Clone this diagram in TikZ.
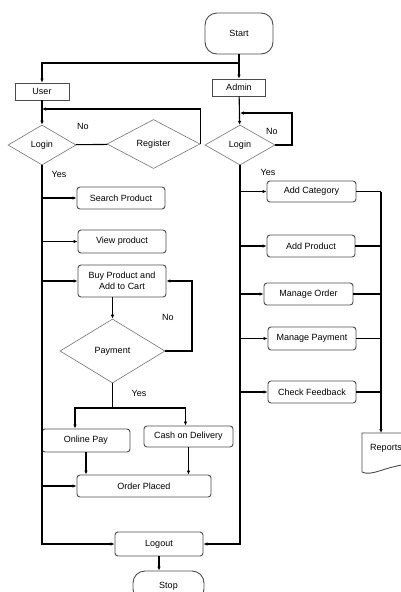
\documentclass[tikz,border=0pt]{standalone}
\usepackage{fontspec}
\setmainfont{Liberation Sans}
\usetikzlibrary{calc}
\usetikzlibrary{shapes.geometric}
\usetikzlibrary{arrows.meta}
\tikzset{
	% Node styles for the flow chart: terminal, plain box, rounded box and decision
	term node/.style={draw=black!70,line width=0.9pt,rounded corners=12pt,inner sep=0},
	plain node/.style={draw=black!70,line width=0.8pt,inner sep=0},
	step node/.style={draw=black!70,line width=0.9pt,rounded corners=3pt,inner sep=0,align=center},
	decision node/.style={diamond,draw=black!55,line width=0.6pt,inner sep=0},
	% connectors with and without a head
	flow/.style={line width=1.1pt},
	flow arrow/.style={line width=1.1pt,-{Latex[length=4pt,width=3.5pt]}}
}

\begin{document}
\begin{tikzpicture}[x=1pt,y=-1pt,font=\fontsize{9}{10.5}\selectfont]
	% macro for the yes/no answers beside the connectors
	\newcommand{\answer}[3]{\node(#1)at(#2){#3};}
	\useasboundingbox (0,0) rectangle (401,592);
	
	% start and the two roles
	\node(start)[term node,minimum width=68pt,minimum height=41pt] at (239,33.5){Start};
	\coordinate(split) at (239,63);
	\node(user)[plain node,minimum width=54pt,minimum height=17pt] at (42,91.5){User};
	\node(admin)[plain node,minimum width=53pt,minimum height=17pt] at (239,87.5){Admin};
	
	% user side
	\node(u-login)[decision node,minimum width=68pt,minimum height=40pt] at (42,145){Login};
	\node(u-register)[decision node,minimum width=93pt,minimum height=49pt] at (153.5,144){Register};
	\coordinate(u-back) at (42,109);
	\node(u-search)[step node,minimum width=88pt,minimum height=22pt] at (121,198){Search Product};
	\node(u-view)[step node,minimum width=88pt,minimum height=23pt] at (122,241.5){View product};
	\node(u-buy)[step node,minimum width=88pt,minimum height=32pt] at (122,281){Buy Product and\\Add to Cart};
	\node(u-pay)[decision node,minimum width=105pt,minimum height=64pt] at (112.5,351){Payment};
	\coordinate(u-loop) at (192,281);
	\coordinate(u-split) at (112.5,408);
	\node(u-online)[step node,minimum width=88pt,minimum height=23pt] at (86,440.5){Online Pay};
	\node(u-cash)[step node,minimum width=89pt,minimum height=21pt] at (188.5,436.5){Cash on Delivery};
	\node(u-placed)[step node,minimum width=134pt,minimum height=22pt] at (144,486){Order Placed};
	
	% admin side
	\node(a-login)[decision node,minimum width=70pt,minimum height=40pt] at (240,145){Login};
	\coordinate(a-loop) at (292,113);
	\coordinate(a-back) at (240,113);
	\node(a-cat)[step node,minimum width=89pt,minimum height=21pt] at (311.5,191.5){Add Category};
	\node(a-prod)[step node,minimum width=88pt,minimum height=22pt] at (311,246){Add Product};
	\node(a-order)[step node,minimum width=89pt,minimum height=22pt] at (308.5,294){Manage Order};
	\node(a-pay)[step node,minimum width=88pt,minimum height=23pt] at (312,338.5){Manage Payment};
	\node(a-feed)[step node,minimum width=88pt,minimum height=22pt] at (312,392){Check Feedback};
	\coordinate(r-top) at (381,191.5);
	\coordinate(r-end) at (381,433);
	\draw[draw=black!70,line width=0.9pt] (362,433) -- (410,433) -- (410,464)
		.. controls (385,466) and (372,477) .. (362,472) -- cycle;
	\node(reports) at (386,448){Reports};
	
	% end
	\node(logout)[step node,minimum width=88pt,minimum height=24pt] at (159,544){Logout};
	\node(stop)[term node,minimum width=71pt,minimum height=30pt] at (168.5,586){Stop};
	
	% connectors
	\draw[flow] (start) -- (split);
	\draw[flow arrow] (split) -| (user);
	\draw[flow arrow] (split) -- (admin);
	
	\draw[flow arrow] (user) -- (u-login);
	\draw[flow] (u-login) -- (u-register);
	\draw[flow arrow] (u-register.east) |- (u-back);
	\draw[flow arrow] (u-login.south) |- (logout.west);
	\foreach \n in {u-search,u-view,u-buy,u-placed}
		\draw[flow arrow] (u-login.south |- \n.west) -- (\n.west);
	\draw[flow arrow] (u-pay.north |- u-buy.south) -- (u-pay.north);
	\draw[flow arrow] (u-pay.east) -| (u-loop) -- (u-buy.east);
	\draw[flow] (u-pay.south) -- (u-split);
	\draw[flow arrow] (u-split) -| ([xshift=-11pt]u-online.north);
	\draw[flow arrow] (u-split) -| ([xshift=-3pt]u-cash.north);
	\draw[flow arrow] (u-online.south) -- (u-online.south |- u-placed.north);
	\draw[flow arrow] (u-cash.south) -- (u-cash.south |- u-placed.north);
	
	\draw[flow arrow] (admin) -- (a-login);
	\draw[flow arrow] (a-login.east) -| (a-loop) -- (a-back);
	\draw[flow arrow] (a-login.south) |- (logout.east);
	\foreach \n in {a-cat,a-prod,a-order,a-pay,a-feed}{
		\draw[flow arrow] (a-login.south |- \n.west) -- (\n.west);
		\draw[flow] (\n.east) -- (\n.east -| r-top);
	}
	\draw[flow arrow] (r-top) -- (r-end);
	\draw[flow arrow] (logout.south) -- (logout.south |- stop.north);
	
	\answer{u-no}{83,126}{No}
	\answer{u-yes}{59,174}{Yes}
	\answer{a-no}{272,131}{No}
	\answer{a-yes}{268,172}{Yes}
	\answer{p-no}{168,317}{No}
	\answer{p-yes}{139,393}{Yes}
\end{tikzpicture}
\end{document}
